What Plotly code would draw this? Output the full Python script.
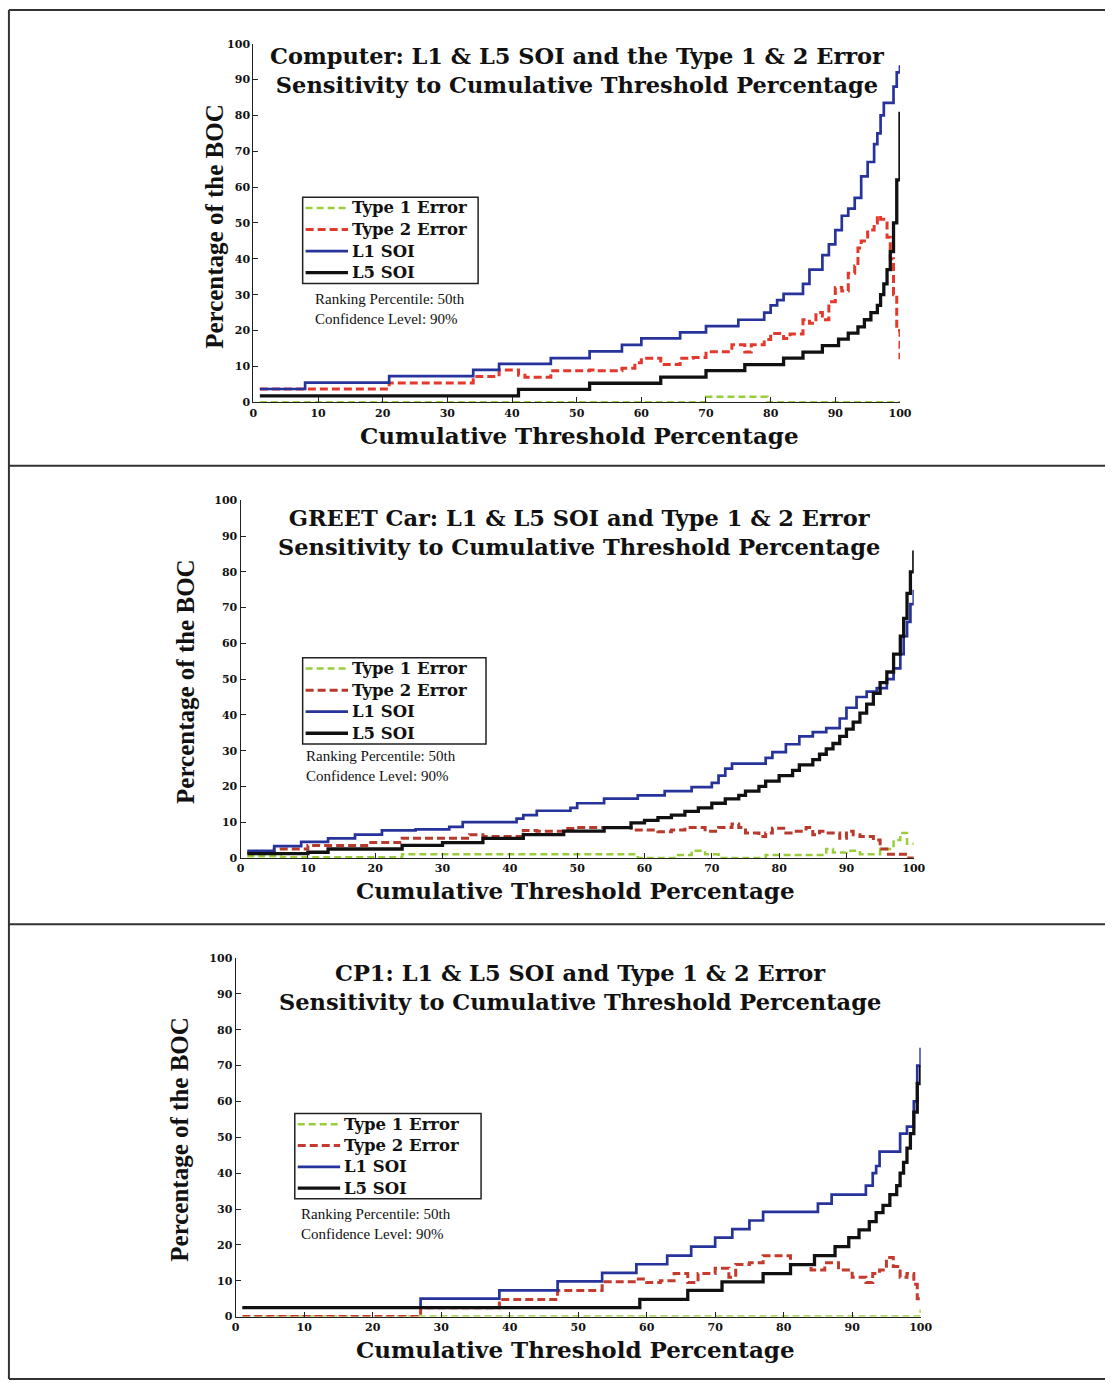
import plotly.graph_objects as go

# ---------------- data ----------------
ticks = [0, 10, 20, 30, 40, 50, 60, 70, 80, 90, 100]
series_names = ["Type 1 Error", "Type 2 Error", "L1 SOI", "L5 SOI"]
panel_titles = [
    "Computer: L1 & L5 SOI and the Type 1 & 2 Error<br>Sensitivity to Cumulative Threshold Percentage",
    "GREET Car: L1 & L5 SOI and Type 1 & 2 Error<br>Sensitivity to Cumulative Threshold Percentage",
    "CP1: L1 & L5 SOI and Type 1 & 2 Error<br>Sensitivity to Cumulative Threshold Percentage",
]
note_text = "Ranking Percentile: 50th<br>Confidence Level: 90%"
x_title = "Cumulative Threshold Percentage"
y_title = "Percentage of the BOC"

# Panel 1: Computer
comp_t1_x = [1, 70, 79.5, 100]
comp_t1_y = [0, 1.5, 0, 0]
comp_t2_x = [1, 21, 34, 38, 41, 42, 46, 52, 53, 57, 59, 60, 63, 66, 68, 70, 74, 76, 77, 79,
             80, 82, 83, 85, 86, 87, 88, 89, 90, 91, 92, 93, 93.5, 94, 95, 96, 96.5, 97, 98, 98.5,
             99, 99.5, 100]
comp_t2_y = [3.7, 5.4, 7.2, 9.0, 7.5, 7.0, 8.8, 9.0, 8.8, 9.5, 11, 12.3, 10.5, 12.3, 12.5, 14.1, 16, 14, 16, 17.5,
             19.2, 17.8, 19, 23, 22, 25, 23, 28, 32, 31, 36, 38, 43, 45, 48, 50, 52, 51, 46, 40,
             30, 20, 12]
comp_l1_x = [1, 8, 21, 34, 38, 46, 52, 57, 60, 66, 70, 75, 79, 80, 81, 82, 85, 86, 88, 89,
             90, 91, 92, 93, 94, 95, 96, 96.5, 97, 97.5, 99, 99.5, 100]
comp_l1_y = [3.7, 5.5, 7.3, 9.0, 10.7, 12.3, 14.2, 16.0, 17.8, 19.5, 21.2, 23.0, 25, 27, 28.5, 30.2, 33, 37, 41, 44,
             48, 52, 54, 57, 63, 67, 72, 75, 80, 83.5, 88, 92, 94]
comp_l5_x = [1, 41, 52, 63, 70, 76, 82, 85, 88, 90.5, 92, 93.5, 94.5, 95.5, 96.5, 97, 97.5, 98, 98.5, 99,
             99.5, 100]
comp_l5_y = [1.8, 3.6, 5.3, 7.0, 8.8, 10.5, 12.3, 14.0, 15.8, 17.6, 19.3, 21, 23, 25, 27, 30, 33, 37, 42, 50,
             62, 81]

# Panel 2: GREET Car
greet_t1_x = [1, 6, 24, 59, 65, 67, 69, 71, 78, 87, 88, 90, 92, 95, 97, 98, 99, 100]
greet_t1_y = [0.5, 0.2, 1.0, 0, 0.8, 2, 1, 0, 0.8, 2.5, 1.5, 2.0, 1.0, 2.5, 5, 7, 4, 4]
greet_t2_x = [1, 5, 10, 19, 24, 34, 36, 42, 44, 48, 50, 58, 62, 64, 66, 69, 71, 73, 74, 75,
              77, 78, 79, 81, 82, 84, 85, 86, 87, 89, 90, 91, 92, 94, 95, 96, 99, 100]
greet_t2_y = [1.5, 2.5, 3.5, 4.3, 5.5, 6.5, 6.0, 7.7, 7.5, 8.2, 8.5, 7.8, 7.3, 7.8, 8.5, 7.5, 8.5, 9.5, 8.5, 7,
              6, 7, 8.3, 7.0, 7.5, 8.5, 6.5, 7.5, 7, 5.5, 7.5, 6.5, 6, 5, 2.5, 1.0, 0, 0]
greet_l1_x = [1, 5, 9, 13, 17, 21, 26, 31, 33, 41, 42, 44, 49, 50, 54, 59, 63, 67, 70, 71,
              72, 73, 78, 79, 81, 83, 85, 87, 89, 90, 91.5, 93, 94.5, 96, 97, 98, 98.5, 99, 99.5, 100]
greet_l1_y = [2.0, 3.3, 4.5, 5.5, 6.5, 7.7, 8.0, 8.7, 10.0, 11.0, 12.0, 13.2, 14.0, 15.3, 16.6, 17.5, 18.7, 19.8, 21, 23,
              25, 26.4, 28, 29.6, 31.8, 34, 35.2, 36.3, 39, 42, 45, 46.5, 47.5, 50, 53, 57, 62, 66, 71, 75]
greet_l5_x = [1, 10, 13, 24, 30, 36, 42, 48, 54, 58, 60, 62, 64, 66, 68, 70, 72, 74, 75, 77,
              78, 80, 82, 83, 85, 86, 87, 88, 89, 90, 91, 92, 93, 94, 95, 96, 97, 98, 98.5, 99,
              99.5, 100]
greet_l5_y = [1.2, 1.6, 2.5, 3.5, 4.3, 5.5, 6.5, 7.5, 8.5, 9.8, 10.5, 11.3, 12, 13, 14, 15.3, 16.5, 17.5, 18.7, 20,
              21.5, 23, 24.5, 26, 27.5, 29, 30.5, 32, 34, 36, 38, 40.5, 43, 46, 49, 52, 57, 62, 67, 74,
              80, 86]

# Panel 3: CP1
cp1_t1_x = [1, 99.5, 100]
cp1_t1_y = [0, 0, 2]
cp1_t2_x = [1, 27, 38.5, 47, 53.5, 58.5, 60, 62, 64, 66, 67.5, 70, 72, 73, 75, 77, 81, 84, 86, 88,
            90, 92, 93, 94, 95, 96, 97, 98, 99, 99.5, 100]
cp1_t2_y = [0, 2.5, 4.8, 7.3, 9.7, 10.5, 9.5, 10.0, 12.0, 9.5, 12, 13.5, 11, 14.5, 15, 17, 14.5, 13, 15, 13,
            11, 9.5, 12, 13, 16.5, 14, 11, 12, 9, 5, 5]
cp1_l1_x = [1, 27, 38.5, 47, 53.5, 58.5, 63, 66.5, 70, 72.5, 75, 77, 85, 87, 92, 93, 93.5, 94, 97, 98,
            99, 99.5, 100]
cp1_l1_y = [2.5, 5.0, 7.3, 9.8, 12.2, 14.6, 17.0, 19.5, 22.0, 24.4, 26.8, 29.2, 31.5, 34.0, 36.5, 40, 42, 46, 51, 53,
            60, 70, 75]
cp1_l5_x = [1, 59, 66, 71, 77, 81, 84.5, 87.5, 89.5, 91, 92.5, 93.5, 94.5, 95.5, 96.5, 97, 97.5, 98, 98.5, 99,
            99.5, 100]
cp1_l5_y = [2.5, 4.8, 7.3, 9.7, 12.0, 14.5, 17.0, 19.5, 22, 24.2, 26.5, 29, 31, 34, 36.5, 40, 43, 47, 51, 57,
            65, 70]

panels = [
    [(comp_t1_x, comp_t1_y), (comp_t2_x, comp_t2_y), (comp_l1_x, comp_l1_y), (comp_l5_x, comp_l5_y)],
    [(greet_t1_x, greet_t1_y), (greet_t2_x, greet_t2_y), (greet_l1_x, greet_l1_y), (greet_l5_x, greet_l5_y)],
    [(cp1_t1_x, cp1_t1_y), (cp1_t2_x, cp1_t2_y), (cp1_l1_x, cp1_l1_y), (cp1_l5_x, cp1_l5_y)],
]

# ---------------- layout geometry (page pixels) ----------------
W, H = 1117, 1388
areas = [(253, 909, 38, 400), (240, 923, 499, 860), (235, 930, 961, 1323)]
legend_box = [(303, 193, 481, 280), (303, 658, 489, 745), (295, 1118, 484, 1204)]
title_pos = [(582, 65), (583, 531), (584, 991)]
note_pos = [(313, 306), (304, 767), (299, 1230)]
xtitle_pos = [(584, 434), (580, 893), (580, 1356)]
ytitle_pos = [(214, 222), (184, 682), (178, 1144)]
red_colors = ["#e3392c", "#b83a2c", "#c43a2c"]

fx = lambda px: px / W
fy = lambda py: 1 - py / H

def style_for(panel, j):
    if j == 0:
        return dict(color="#9acd3c", width=2.5, dash="7px,4px")
    if j == 1:
        return dict(color=red_colors[panel], width=3, dash="8px,4px")
    if j == 2:
        return dict(color="#26339a", width=2.7)
    return dict(color="#111111", width=3.3)

fig = go.Figure()
serif_b = "DejaVu Serif"
times = "Liberation Serif"
shapes = []

for i, series in enumerate(panels):
    xa = "x" if i == 0 else f"x{i+1}"
    ya = "y" if i == 0 else f"y{i+1}"
    for j, (xs, ys) in enumerate(series):
        fig.add_trace(go.Scatter(
            x=xs, y=ys, mode="lines", name=series_names[j],
            line=dict(shape="hv", **style_for(i, j)),
            xaxis=xa, yaxis=ya, showlegend=False,
        ))
    x0, x1, yt, yb = areas[i]
    axis_common = dict(
        range=[0, 100], tickvals=ticks, ticktext=[str(t) for t in ticks],
        showgrid=False, zeroline=False, showline=True, linecolor="#222", linewidth=1.2,
        ticks="inside", ticklen=5, tickcolor="#222",
        tickfont=dict(family=serif_b, size=11, color="#111", weight="bold"),
    )
    fig.layout[f"xaxis{'' if i == 0 else i+1}"] = dict(
        domain=[fx(x0), fx(x1)], anchor=ya, **axis_common)
    fig.layout[f"yaxis{'' if i == 0 else i+1}"] = dict(
        domain=[fy(yb), fy(yt)], anchor=xa, **axis_common)

    # legend box drawn in paper space
    lx0, ly0, lx1, ly1 = legend_box[i]
    shapes.append(dict(type="rect", xref="paper", yref="paper",
                       x0=fx(lx0), x1=fx(lx1), y0=fy(ly1), y1=fy(ly0),
                       line=dict(color="#222", width=1.5), fillcolor="white", layer="above"))
    step = (ly1 - ly0) / 4.0
    for j in range(4):
        cy = ly0 + step * (j + 0.5)
        st = style_for(i, j)
        shapes.append(dict(type="line", xref="paper", yref="paper",
                           x0=fx(lx0 + 3), x1=fx(lx0 + 46), y0=fy(cy), y1=fy(cy), layer="above",
                           line=dict(color=st["color"], width=st["width"], dash=st.get("dash", "solid"))))
        fig.add_annotation(text=series_names[j], x=fx(lx0 + 48), y=fy(cy), xref="paper", yref="paper",
                           xanchor="left", yanchor="middle", showarrow=False,
                           font=dict(family=serif_b, size=16.5, color="#111", weight="bold"))

    tx, ty = title_pos[i]
    fig.add_annotation(text=panel_titles[i], x=fx(tx), y=fy(ty), xref="paper", yref="paper",
                       xanchor="center", yanchor="middle", align="center", showarrow=False,
                       font=dict(family=serif_b, size=22.5, color="#111", weight="bold"))
    nx, ny = note_pos[i]
    fig.add_annotation(text=note_text, x=fx(nx), y=fy(ny), xref="paper", yref="paper",
                       xanchor="left", yanchor="middle", align="left", showarrow=False,
                       font=dict(family=times, size=15, color="#111"))
    ax_, ay_ = xtitle_pos[i]
    fig.add_annotation(text=x_title, x=fx(ax_), y=fy(ay_), xref="paper", yref="paper",
                       xanchor="center", yanchor="middle", showarrow=False,
                       font=dict(family=serif_b, size=23, color="#111", weight="bold"))
    bx, by = ytitle_pos[i]
    fig.add_annotation(text=y_title, x=fx(bx), y=fy(by), xref="paper", yref="paper",
                       xanchor="center", yanchor="middle", showarrow=False, textangle=-90,
                       font=dict(family=times, size=25, color="#111", weight="bold"))

# frame lines around the three panels
frame_color = "#333333"
shapes.append(dict(type="line", xref="paper", yref="paper", x0=fx(5), x1=fx(5), y0=fy(4), y1=fy(1386),
                   line=dict(color=frame_color, width=2)))
for yy in [4, 464, 927, 1386]:
    shapes.append(dict(type="line", xref="paper", yref="paper", x0=fx(5), x1=1, y0=fy(yy), y1=fy(yy),
                       line=dict(color=frame_color, width=2)))

fig.update_layout(
    width=W, height=H, margin=dict(l=0, r=0, t=0, b=0),
    paper_bgcolor="white", plot_bgcolor="white",
    shapes=shapes, showlegend=False,
)

fig.write_html("out.html")
